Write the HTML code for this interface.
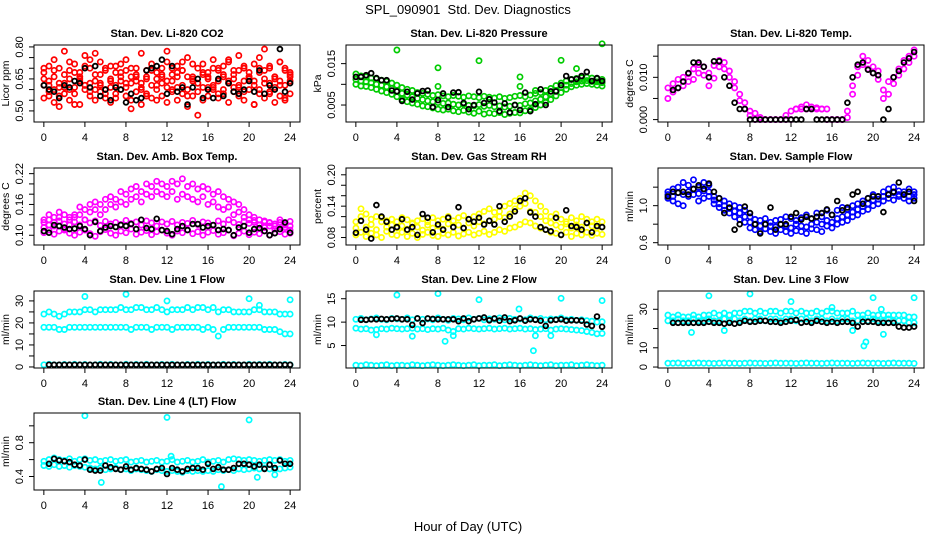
<!DOCTYPE html>
<html><head><meta charset="utf-8"><style>
html,body{margin:0;padding:0;background:#fff}
svg{display:block;font-family:"Liberation Sans",sans-serif}
</style></head><body>
<svg id="chart" width="936" height="540" viewBox="0 0 936 540">
<text x="468" y="14" text-anchor="middle" font-size="13">SPL_090901&#160; Std. Dev. Diagnostics</text>
<text x="468" y="531" text-anchor="middle" font-size="13">Hour of Day (UTC)</text>
</svg>
<script>
const hours=[0,0.5,1,1.5,2,2.5,3,3.5,4,4.5,5,5.5,6,6.5,7,7.5,8,8.5,9,9.5,10,10.5,11,11.5,12,12.5,13,13.5,14,14.5,15,15.5,16,16.5,17,17.5,18,18.5,19,19.5,20,20.5,21,21.5,22,22.5,23,23.5,24];
const xTicks=[0,4,8,12,16,20,24];
// CO2
const co2A=[0.68,0.71,0.66,0.70,0.63,0.69,0.72,0.65,0.76,0.70,0.67,0.73,0.69,0.64,0.71,0.68,0.74,0.70,0.66,0.77,0.69,0.72,0.68,0.70,0.73,0.67,0.71,0.69,0.75,0.66,0.70,0.72,0.68,0.74,0.69,0.71,0.73,0.67,0.76,0.70,0.68,0.72,0.75,0.69,0.71,0.66,0.73,0.70,0.68];
const co2B=[0.62,0.64,0.60,0.63,0.58,0.65,0.61,0.66,0.62,0.59,0.64,0.63,0.60,0.65,0.62,0.66,0.61,0.63,0.64,0.60,0.66,0.62,0.65,0.63,0.61,0.64,0.66,0.62,0.60,0.65,0.63,0.61,0.66,0.62,0.64,0.60,0.63,0.65,0.61,0.64,0.66,0.62,0.60,0.65,0.63,0.61,0.64,0.62,0.66];
const co2C=[0.56,0.59,0.54,0.57,0.61,0.55,0.58,0.53,0.60,0.57,0.55,0.59,0.56,0.54,0.58,0.60,0.57,0.55,0.59,0.53,0.58,0.56,0.60,0.57,0.54,0.59,0.55,0.58,0.52,0.57,0.59,0.55,0.57,0.60,0.56,0.58,0.54,0.59,0.57,0.55,0.60,0.53,0.58,0.56,0.59,0.54,0.57,0.55,0.58];
const co2D=[0.65,0.57,0.69,0.52,0.67,0.73,0.53,0.68,0.62,0.74,0.60,0.67,0.58,0.71,0.56,0.64,0.69,0.51,0.67,0.63,0.57,0.70,0.55,0.66,0.78,0.60,0.68,0.73,0.57,0.64,0.48,0.67,0.61,0.70,0.58,0.66,0.74,0.61,0.69,0.59,0.65,0.53,0.70,0.79,0.58,0.66,0.73,0.56,0.64];
const co2E=[0.70,0.62,0.74,0.61,0.78,0.60,0.68,0.64,0.71,0.63,0.77,0.62,0.70,0.61,0.68,0.72,0.63,0.66,0.70,0.61,0.65,0.69,0.62,0.67,0.64,0.70,0.61,0.69,0.66,0.72,0.63,0.68,0.65,0.61,0.70,0.67,0.64,0.69,0.62,0.71,0.66,0.64,0.68,0.63,0.70,0.65,0.62,0.69,0.67];
const co2K=[0.62,0.60,0.59,0.56,0.62,0.61,0.64,0.63,0.70,0.61,0.71,0.57,0.60,0.55,0.61,0.60,0.54,0.58,0.55,0.56,0.69,0.70,0.71,0.74,0.58,0.71,0.59,0.61,0.53,0.61,0.65,0.56,0.60,0.56,0.65,0.57,0.63,0.59,0.58,0.60,0.64,0.59,0.69,0.58,0.62,0.60,0.79,0.59,0.63];
// Pressure
const prA=[.0125,.0120,.0118,.0115,.0113,.0110,.0107,.0103,.0098,.0092,.0088,.0085,.0080,.0078,.0076,.0073,.0075,.0072,.0070,.0073,.0071,.0069,.0072,.0070,.0068,.0071,.0069,.0067,.0070,.0066,.0068,.0071,.0073,.0070,.0074,.0078,.0080,.0085,.0090,.0097,.0103,.0108,.0112,.0114,.0116,.0117,.0115,.0113,.0112];
const prB=[.0112,.0108,.0106,.0104,.0100,.0098,.0094,.0090,.0084,.0078,.0074,.0070,.0066,.0063,.0060,.0058,.0056,.0054,.0055,.0052,.0050,.0052,.0049,.0048,.0051,.0047,.0049,.0046,.0048,.0045,.0047,.0050,.0049,.0053,.0055,.0060,.0064,.0070,.0077,.0085,.0092,.0098,.0102,.0106,.0108,.0109,.0107,.0106,.0104];
const prC=[.0100,.0096,.0095,.0092,.0088,.0084,.0080,.0076,.0070,.0064,.0058,.0055,.0052,.0048,.0046,.0043,.0040,.0038,.0040,.0036,.0034,.0037,.0033,.0030,.0035,.0028,.0031,.0029,.0032,.0027,.0030,.0032,.0031,.0036,.0039,.0044,.0050,.0056,.0063,.0072,.0080,.0088,.0094,.0098,.0100,.0102,.0100,.0098,.0096];
const prOutX=[4,8,8,12,16,16,17.5,20,21.5,24];
const prOutY=[.0183,.0140,.0095,.0157,.0118,.0095,.0085,.0158,.0138,.0198];
const prK=[.0118,.0118,.0122,.0127,.0115,.0110,.0110,.0085,.0083,.0060,.0082,.0063,.0078,.0084,.0085,.0045,.0062,.0078,.0045,.0080,.0081,.0055,.0040,.0050,.0082,.0055,.0064,.0056,.0035,.0054,.0032,.0050,.0038,.0080,.0035,.0052,.0088,.0050,.0083,.0083,.0098,.0120,.0112,.0113,.0120,.0130,.0108,.0115,.0108];
// Li-820 temp
const ltA=[.0075,.0085,.0095,.0100,.0108,.0120,.0130,.0125,.0110,.0128,.0140,.0135,.0115,.0090,.0060,.0040,.0020,.0015,.0005,0,0,0,0,.0010,.0020,.0025,.0030,.0035,.0030,.0028,.0025,.0025,0,0,0,.0020,.0080,.0125,.0150,.0140,.0125,.0115,.0070,.0090,.0100,.0120,.0140,.0150,.0165];
const ltB=[.0050,.0065,.0075,.0080,.0090,.0095,.0110,.0105,.0080,.0098,.0125,.0120,.0100,.0075,.0045,.0025,.0010,0,0,0,0,0,0,0,0,.0025,.0025,.0025,.0025,.0025,.0025,0,0,0,0,.0005,.0060,.0105,.0130,.0120,.0110,.0095,.0050,.0060,.0085,.0105,.0120,.0135,.0150];
const ltK=[null,.0070,.0075,.0090,.0110,.0135,.0135,.0125,.0100,.0138,.0138,.0100,.0080,.0040,.0025,.0025,0,0,0,0,0,0,0,0,0,0,0,.0025,.0025,0,0,0,0,0,0,.0040,.0100,.0130,.0135,.0118,.0110,.0105,0,.0025,.0100,.0115,.0135,.0145,.0160];
// Amb box temp
const abA=[.105,.110,.102,.108,.112,.104,.100,.106,.110,.103,.098,.107,.111,.104,.100,.108,.105,.112,.102,.106,.109,.101,.107,.110,.104,.100,.108,.105,.111,.103,.107,.100,.106,.109,.102,.105,.110,.099,.104,.108,.101,.106,.103,.109,.100,.105,.107,.102,.104];
const abB=[.125,.130,.118,.128,.122,.135,.126,.120,.130,.124,.128,.119,.127,.122,.125,.121,.129,.123,.126,.120,.128,.124,.118,.126,.122,.127,.120,.125,.123,.129,.121,.126,.124,.119,.128,.122,.130,.125,.121,.127,.123,.129,.120,.126,.124,.118,.125,.122,.127];
const abC=[.130,.140,.125,.135,.140,.130,.140,.155,.150,.160,.165,.160,.170,.175,.170,.185,.180,.190,.195,.185,.200,.195,.205,.200,.195,.205,.200,.210,.195,.200,.190,.195,.190,.180,.185,.175,.170,.165,.160,.150,.140,.135,.130,.128,.125,.122,.130,.120,.118];
const abD=[.115,.120,.135,.145,.110,.120,.135,.140,.130,.145,.150,.140,.150,.160,.155,.165,.160,.170,.175,.165,.180,.175,.185,.180,.175,.185,.170,.180,.175,.170,.165,.175,.160,.165,.155,.150,.155,.140,.145,.135,.130,.125,.120,.115,.118,.112,.120,.115,.110];
const abK=[.108,.105,.120,.118,.115,.112,.113,.118,.112,.100,.126,.108,.115,.118,.116,.120,.118,.122,.112,.130,.114,.112,.132,.110,.108,.102,.112,.118,.110,.122,.122,.115,.118,.120,.110,.112,.110,.100,.115,.118,.105,.112,.114,.108,.100,.104,.112,.125,.105];
// RH
const rhA=[.110,.120,.125,.115,.120,.118,.112,.115,.110,.118,.114,.108,.112,.116,.110,.118,.112,.115,.120,.112,.118,.122,.115,.120,.125,.130,.135,.128,.130,.140,.145,.150,.155,.165,.160,.150,.140,.130,.120,.125,.115,.110,.118,.112,.120,.115,.110,.115,.110];
const rhB=[.085,.090,.082,.088,.085,.080,.092,.086,.084,.090,.082,.088,.080,.086,.090,.084,.082,.088,.085,.090,.083,.087,.090,.085,.088,.092,.086,.090,.095,.092,.098,.100,.105,.110,.108,.102,.098,.095,.090,.088,.085,.090,.082,.088,.085,.090,.084,.088,.086];
const rhC=[.098,.135,.100,.105,.095,.110,.100,.104,.098,.102,.096,.106,.100,.094,.104,.098,.102,.096,.106,.100,.104,.098,.108,.102,.110,.106,.112,.115,.120,.118,.125,.135,.140,.145,.130,.128,.120,.112,.108,.104,.100,.106,.098,.104,.100,.108,.102,.098,.100];
const rhK=[.089,.112,.095,.078,.142,.120,.110,.095,.100,.115,.095,.100,.085,.125,.118,.090,.105,.095,.118,.100,.138,.098,.115,.110,.118,.105,.112,.105,.140,.110,.120,.130,.150,.155,.128,.120,.100,.095,.092,.118,.085,.132,.102,.100,.095,.108,.090,.102,.100];
// Sample flow
const sfA=[1.15,1.18,1.20,1.25,1.22,1.28,1.20,1.25,1.22,1.10,1.08,1.05,1.02,1.00,0.98,0.95,0.88,0.85,0.84,0.86,0.82,0.84,0.85,0.88,0.86,0.84,0.87,0.90,0.86,0.92,0.88,0.95,0.90,0.95,0.98,0.96,1.00,1.02,1.05,1.08,1.12,1.10,1.15,1.18,1.20,1.16,1.15,1.18,1.15];
const sfB=[1.08,1.05,1.02,1.00,1.10,1.12,1.05,1.08,1.10,1.02,0.98,0.95,0.92,0.88,0.85,0.82,0.76,0.74,0.72,0.75,0.72,0.70,0.74,0.72,0.70,0.73,0.72,0.70,0.75,0.74,0.72,0.78,0.76,0.80,0.82,0.84,0.88,0.90,0.94,0.96,1.00,1.02,1.05,1.08,1.06,1.10,1.08,1.05,1.08];
const sfC=[1.12,1.10,1.14,1.12,1.15,1.18,1.13,1.16,1.15,1.06,1.02,1.00,0.97,0.94,0.92,0.88,0.82,0.80,0.78,0.80,0.78,0.77,0.80,0.78,0.76,0.80,0.78,0.77,0.80,0.82,0.80,0.84,0.82,0.86,0.88,0.90,0.93,0.96,0.99,1.02,1.06,1.07,1.10,1.12,1.14,1.12,1.12,1.10,1.12];
const sfK=[1.10,1.15,1.14,1.15,1.12,1.18,1.22,1.18,1.24,1.15,1.08,0.92,0.98,0.74,0.80,0.99,0.92,0.80,0.70,0.80,0.98,0.74,0.80,0.80,0.88,0.92,0.85,0.88,0.86,0.88,0.92,0.96,0.90,1.05,0.95,0.98,1.12,1.15,1.02,1.08,1.10,1.10,0.93,1.12,1.15,1.25,1.12,1.15,1.05];
// Line 1
const l1A=[24,25,24,23,24,25,25,25,26,26,25,26,26,26,26,27,26,26,27,27,26,26,27,26,25,26,26,26,27,26,27,27,26,27,25,26,26,25,25,25,25,26,26,25,25,25,24,24,24];
const l1B=[18,18,18,17,17,18,18,18,18,18,18,18,18,18,18,18,18,17,18,18,18,17,18,18,18,17,18,18,18,18,18,17,18,17,14,17,18,18,18,18,18,18,18,17,17,17,16,15,15];
const l1C=[1,1.2,1,0.9,1.1,1,1.2,1,1.1,0.9,1,1.2,1,1.1,1,0.9,1.2,1,1.1,1,1.2,0.9,1,1.1,1,1.2,1,0.9,1.1,1,1.2,1,1.1,0.9,1,1.2,1,1.1,1,0.9,1.2,1,1.1,1,1.2,0.9,1,1.1,1];
const l1OutX=[4,8,12,20,21,24];
const l1OutY=[32,33,30,31,28,30.5];
const l1K=[null,1,1,1,1,1,1,1,1,1,1,1,1,1,1,1,1,1,1,1,1,1,1,1,1,1,1,1,1,1,1,1,1,1,1,1,1,1,1,1,1,1,1,1,1,1,1,1,1];
// Line 2
const l2A=[10.6,10.8,10.5,10.7,10.9,10.6,10.5,10.8,10.7,10.6,10.9,10.5,10.8,10.6,10.7,10.5,10.9,10.6,10.4,10.8,10.7,10.5,10.9,10.6,10.8,10.5,10.7,10.6,10.9,10.5,10.8,10.6,10.7,10.5,10.9,10.6,10.8,10.5,10.7,10.6,10.9,10.5,10.6,10.4,10.5,10.3,10.2,10.0,10.1];
const l2B=[8.7,8.5,8.6,8.3,8.4,8.6,8.5,8.7,8.6,8.5,8.6,8.7,8.5,8.6,8.4,8.6,8.5,8.7,8.3,8.0,8.6,8.5,8.7,8.6,8.5,8.6,8.7,8.5,8.6,8.7,8.5,8.6,8.7,8.5,8.6,8.4,8.5,8.6,8.3,8.5,8.6,8.5,8.4,8.3,8.2,8.0,7.8,7.5,7.6];
const l2C=[0.8,0.7,0.9,0.8,0.7,0.8,0.9,0.7,0.8,0.8,0.7,0.9,0.8,0.7,0.8,0.9,0.8,0.7,0.8,0.9,0.8,0.7,0.8,0.9,0.7,0.8,0.8,0.9,0.7,0.8,0.9,0.8,0.7,0.8,0.9,0.8,0.7,0.8,0.9,0.7,0.8,0.8,0.9,0.7,0.8,0.9,0.8,0.7,0.8];
const l2OutX=[2,4,5.5,8,8.7,9.5,12,15.9,17.3,17.5,19,20,24];
const l2OutY=[7.3,15.8,7.0,16.1,5.9,7.1,14.8,12.8,3.9,7.1,7.1,15.1,14.6];
const l2K=[null,10.5,10.5,10.6,10.6,10.7,10.6,10.7,10.8,10.6,10.6,9.4,10.8,9.8,10.8,10.7,10.6,10.6,10.6,10.6,10.2,10.8,10.2,10.6,10.8,11.0,10.4,10.8,10.3,11.0,10.2,10.4,10.8,10.3,10.6,10.5,10.3,9.2,10.4,10.5,10.6,10.3,10.4,10.4,10.3,9.5,9.2,11.2,9.0];
// Line 3
const l3A=[27,26,27,26,26,27,26,27,27,28,27,28,27,28,28,29,29,28,29,28,29,29,28,29,29,28,29,28,28,29,28,29,29,28,28,28,29,27,27,28,27,27,27,27,27,27,27,26,26];
const l3B=[24,24,25,24,24,25,24,24,25,24,24,25,24,25,24,25,24,25,25,24,25,25,24,25,25,24,25,25,24,25,25,24,25,24,25,25,24,24,25,24,25,24,24,25,24,24,24,23,23];
const l3C=[2,2,2.1,1.9,2,2,2.1,2,2,1.9,2,2.1,2,2,1.9,2,2.1,2,2,1.9,2,2.1,2,2,2,1.9,2,2.1,2,2,1.9,2,2.1,2,2,2,1.9,2,2.1,2,2,2,1.9,2,2.1,2,2,2,1.9];
const l3OutX=[2.3,4,5.5,8,12,16,18,19.1,19.3,20,20.8,21,24];
const l3OutY=[18,37,19,38,34,31,19,11,13,36,30,17,36];
const l3K=[null,23,23,23,23,23,23,23,23.5,23,23,22.5,23,22.5,23,24,23.5,23.5,24,24,23.5,23.5,23,23.5,24,24.5,23,23.5,23,24,23.5,23,23.5,23,23.5,23.5,23,21,23.5,23.5,23.5,23,23,23,23,21,20.5,20.5,21];
// Line 4
const l4A=[0.58,0.60,0.62,0.60,0.59,0.61,0.58,0.60,0.61,0.59,0.60,0.58,0.59,0.60,0.58,0.59,0.60,0.57,0.58,0.59,0.57,0.58,0.59,0.57,0.58,0.60,0.57,0.58,0.59,0.57,0.58,0.60,0.57,0.58,0.59,0.57,0.60,0.61,0.60,0.59,0.60,0.59,0.58,0.59,0.60,0.59,0.60,0.58,0.59];
const l4B=[0.53,0.52,0.54,0.52,0.53,0.51,0.53,0.52,0.51,0.50,0.49,0.50,0.48,0.49,0.50,0.48,0.49,0.47,0.49,0.48,0.47,0.46,0.48,0.47,0.46,0.47,0.46,0.45,0.47,0.46,0.47,0.46,0.47,0.46,0.48,0.47,0.48,0.47,0.49,0.48,0.49,0.50,0.49,0.50,0.49,0.48,0.49,0.50,0.51];
const l4OutX=[4,5.6,12,12.4,17.3,20,20.8,22.5];
const l4OutY=[1.12,0.33,1.10,0.64,0.28,1.07,0.39,0.42];
const l4K=[null,0.55,0.61,0.59,0.58,0.57,0.54,0.53,0.60,0.48,0.47,0.47,0.53,0.51,0.49,0.48,0.52,0.48,0.50,0.49,0.48,0.46,0.49,0.50,0.43,0.50,0.48,0.46,0.49,0.50,0.50,0.48,0.55,0.49,0.51,0.48,0.48,0.50,0.55,0.55,0.54,0.52,0.54,0.49,0.54,0.50,0.59,0.55,0.55];

const panels=[
 {name:'co2',title:'Stan. Dev. Li-820 CO2',ylab:'Licor ppm',col:0,row:0,ylo:0.448,yhi:0.809,ticks:[0.5,0.55,0.6,0.65,0.7,0.75,0.8],labels:['0.50','0.65','0.80'],labelVals:[0.5,0.65,0.8],color:'#ff0000',series:[[hours,co2A],[hours,co2B],[hours,co2C],[hours,co2D],[hours,co2E]],black:co2K},
 {name:'pressure',title:'Stan. Dev. Li-820 Pressure',ylab:'kPa',col:1,row:0,ylo:0.0009,yhi:0.0195,ticks:[0.005,0.01,0.015],labels:['0.005','0.015'],labelVals:[0.005,0.015],color:'#00cc00',series:[[hours,prA],[hours,prB],[hours,prC],[prOutX,prOutY]],black:prK},
 {name:'li820-temp',title:'Stan. Dev. Li-820 Temp.',ylab:'degrees C',col:2,row:0,ylo:-0.00057,yhi:0.01765,ticks:[0,0.005,0.01,0.015],labels:['0.000','0.010'],labelVals:[0,0.01],color:'#ff00ff',series:[[hours,ltA],[hours,ltB]],black:ltK},
 {name:'amb-box-temp',title:'Stan. Dev. Amb. Box Temp.',ylab:'degrees C',col:0,row:1,ylo:0.081,yhi:0.231,ticks:[0.1,0.12,0.14,0.16,0.18,0.2,0.22],labels:['0.10','0.16','0.22'],labelVals:[0.1,0.16,0.22],color:'#ff00ff',series:[[hours,abA],[hours,abB],[hours,abC],[hours,abD]],black:abK},
 {name:'gas-rh',title:'Stan. Dev. Gas Stream RH',ylab:'percent',col:1,row:1,ylo:0.0657,yhi:0.213,ticks:[0.08,0.1,0.12,0.14,0.16,0.18,0.2],labels:['0.08','0.14','0.20'],labelVals:[0.08,0.14,0.2],color:'#ffff00',series:[[hours,rhA],[hours,rhB],[hours,rhC]],black:rhK},
 {name:'sample-flow',title:'Stan. Dev. Sample Flow',ylab:'ml/min',col:2,row:1,ylo:0.575,yhi:1.407,ticks:[0.6,0.8,1.0,1.2],labels:['0.6','1.0'],labelVals:[0.6,1.0],color:'#0000ff',series:[[hours,sfA],[hours,sfB],[hours,sfC]],black:sfK},
 {name:'line1-flow',title:'Stan. Dev. Line 1 Flow',ylab:'ml/min',col:0,row:2,ylo:-0.47,yhi:34.5,ticks:[0,5,10,15,20,25,30],labels:['0','10','20','30'],labelVals:[0,10,20,30],color:'#00ffff',series:[[hours,l1A],[hours,l1B],[hours,l1C],[l1OutX,l1OutY]],black:l1K},
 {name:'line2-flow',title:'Stan. Dev. Line 2 Flow',ylab:'ml/min',col:1,row:2,ylo:0.2,yhi:16.65,ticks:[5,10,15],labels:['5','10','15'],labelVals:[5,10,15],color:'#00ffff',series:[[hours,l2A],[hours,l2B],[hours,l2C],[l2OutX,l2OutY]],black:l2K},
 {name:'line3-flow',title:'Stan. Dev. Line 3 Flow',ylab:'ml/min',col:2,row:2,ylo:-0.5,yhi:39.5,ticks:[0,10,20,30],labels:['0','10','30'],labelVals:[0,10,30],color:'#00ffff',series:[[hours,l3A],[hours,l3B],[hours,l3C],[l3OutX,l3OutY]],black:l3K},
 {name:'line4-flow',title:'Stan. Dev. Line 4 (LT) Flow',ylab:'ml/min',col:0,row:3,ylo:0.24,yhi:1.152,ticks:[0.4,0.6,0.8,1.0],labels:['0.4','0.8'],labelVals:[0.4,0.8],color:'#00ffff',series:[[hours,l4A],[hours,l4B],[l4OutX,l4OutY]],black:l4K}
];

const NS='http://www.w3.org/2000/svg';
const svg=document.getElementById('chart');
const colX=[34,346,658], rowY=[45,168,291,413], BW=266, BH=77;
function mk(tag,attrs,parent){const e=document.createElementNS(NS,tag);for(const k in attrs)e.setAttribute(k,attrs[k]);parent.appendChild(e);return e;}

panels.forEach(p=>{
  const L=colX[p.col], T=rowY[p.row];
  const xs=v=>L+(v+0.96)/25.92*BW;
  const ys=v=>T+BH-(v-p.ylo)/(p.yhi-p.ylo)*BH;
  const g=mk('g',{},svg);
  
  
  const t=mk('text',{x:L+BW/2,y:T-8,'text-anchor':'middle','font-size':'11','font-weight':'bold'},g);
  t.textContent=p.title;
  
  
  const pts=mk('g',{fill:'none',stroke:p.color,'stroke-width':'1.7'},g);
  
  
  p.series.forEach(s=>{
    const xa=s[0],ya=s[1];
    for(let i=0;i<ya.length;i++){ if(ya[i]==null)continue;
      const c=mk('circle',{cx:xs(xa[i]).toFixed(1),cy:ys(ya[i]).toFixed(1),r:'2.6'},pts);
      
      
    }
  });
  const bk=mk('g',{fill:'none',stroke:'#000','stroke-width':'1.8'},g);
  
  
  for(let i=0;i<p.black.length;i++){ if(p.black[i]==null)continue;
    const c=mk('circle',{cx:xs(hours[i]).toFixed(1),cy:ys(p.black[i]).toFixed(1),r:'2.4'},bk);
    
    
  }
  const box=mk('rect',{x:L,y:T,width:BW,height:BH,fill:'none',stroke:'#000','stroke-width':'1'},g);
  
  
  const xa=mk('g',{stroke:'#000','stroke-width':'1'},g);
  
  
  mk('line',{x1:xs(0),x2:xs(24),y1:T+BH,y2:T+BH},xa);
  xTicks.forEach(v=>{
    mk('line',{x1:xs(v),x2:xs(v),y1:T+BH,y2:T+BH+5},xa);
    const tl=mk('text',{x:xs(v),y:T+BH+19,'text-anchor':'middle','font-size':'11',stroke:'none',fill:'#000'},xa);
    tl.textContent=v;
    
    
  });
  const ya=mk('g',{stroke:'#000','stroke-width':'1'},g);
  
  
  mk('line',{x1:L,x2:L,y1:ys(p.ticks[0]),y2:ys(p.ticks[p.ticks.length-1])},ya);
  p.ticks.forEach(v=>mk('line',{x1:L-5,x2:L,y1:ys(v),y2:ys(v)},ya));
  p.labels.forEach((lab,i)=>{
    const yy=ys(p.labelVals[i]);
    const tl=mk('text',{x:L-11,y:yy,'text-anchor':'middle','font-size':'11',stroke:'none',fill:'#000',transform:`rotate(-90 ${L-11} ${yy})`},ya);
    tl.textContent=lab;
    
    
  });
  const yl=L-25, yc=T+BH/2;
  const ylt=mk('text',{x:yl,y:yc,'text-anchor':'middle','font-size':'10.5',transform:`rotate(-90 ${yl} ${yc})`},g);
  ylt.textContent=p.ylab;
  
  
});
</script>
</body></html>
